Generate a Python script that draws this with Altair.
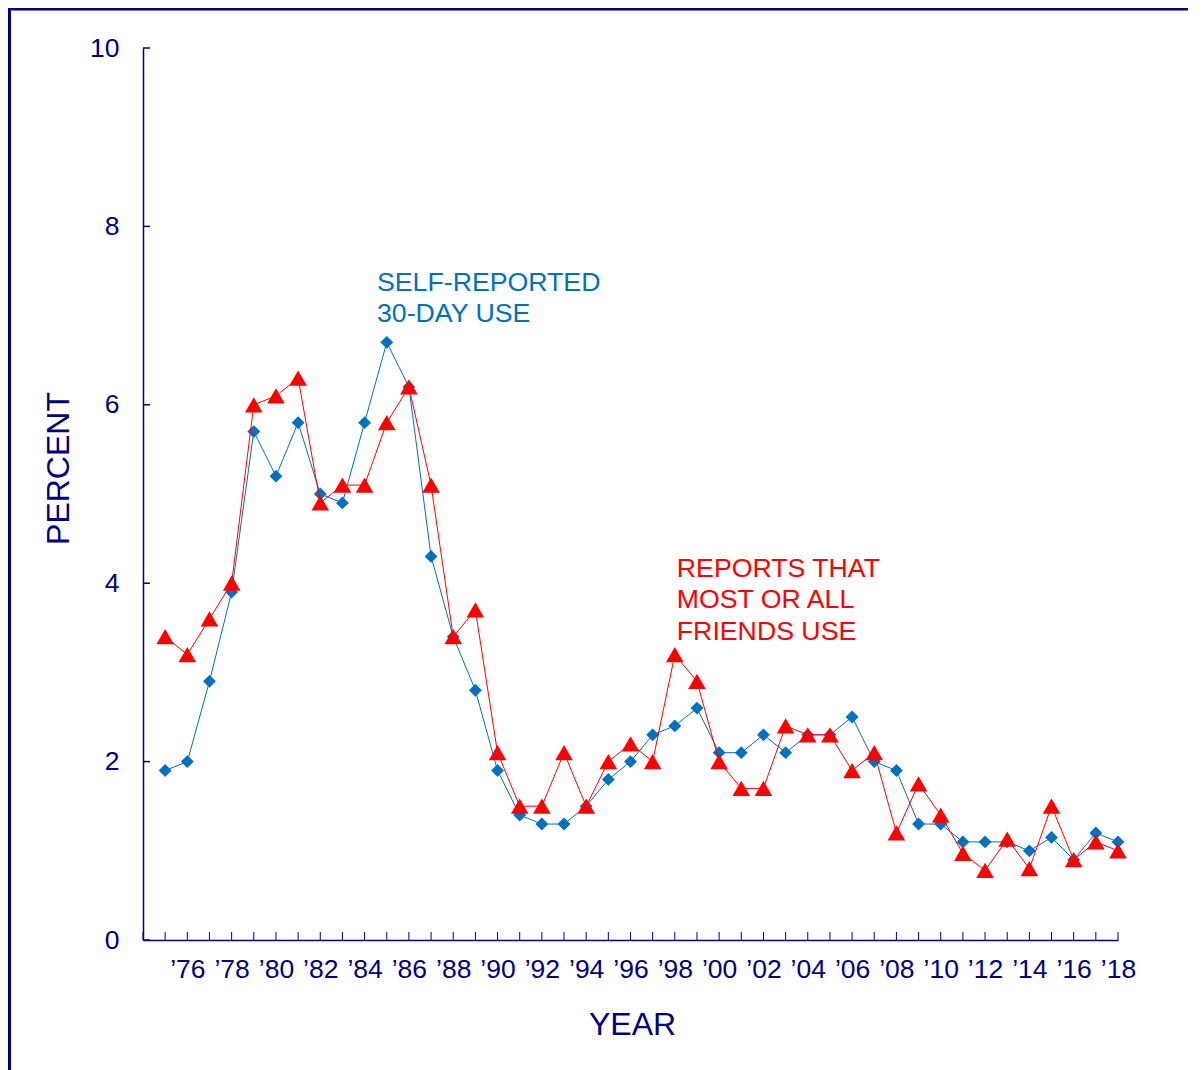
import altair as alt
import pandas as pd

years = list(range(1975, 2019))
self_reported = [1.9, 2.0, 2.9, 3.9, 5.7, 5.2, 5.8, 5.0, 4.9, 5.8,
                 6.7, 6.2, 4.3, 3.4, 2.8, 1.9, 1.4, 1.3, 1.3, 1.5,
                 1.8, 2.0, 2.3, 2.4, 2.6, 2.1, 2.1, 2.3, 2.1, 2.3,
                 2.3, 2.5, 2.0, 1.9, 1.3, 1.3, 1.1, 1.1, 1.1, 1.0,
                 1.15, 0.9, 1.2, 1.1]
friends_use = [3.4, 3.2, 3.6, 4.0, 6.0, 6.1, 6.3, 4.9, 5.1, 5.1,
               5.8, 6.2, 5.1, 3.4, 3.7, 2.1, 1.5, 1.5, 2.1, 1.5,
               2.0, 2.2, 2.0, 3.2, 2.9, 2.0, 1.7, 1.7, 2.4, 2.3,
               2.3, 1.9, 2.1, 1.2, 1.75, 1.4, 0.97, 0.78, 1.13, 0.8,
               1.5, 0.9, 1.1, 1.0]
y_ticks = [0, 2, 4, 6, 8, 10]
x_ticks = list(range(1974, 2019))

ann_text = ["SELF-REPORTED\n30-DAY USE", "REPORTS THAT\nMOST OR ALL\nFRIENDS USE"]
ann_x = [1984.56, 1998.09]
ann_y = [7.28, 4.07]
ann_series = ["self", "friends"]

NAVY = "#000080"
BLUE = "#0070C0"
RED = "#FF0000"
FONT = "Liberation Sans"
W, H = 975, 892

df = pd.DataFrame({"year": years, "self": self_reported, "friends": friends_use})
ann = pd.DataFrame({"text": ann_text, "x": ann_x, "y": ann_y, "s": ann_series})

xscale = alt.Scale(domain=[1974, 2018], nice=False, zero=False)
yscale = alt.Scale(domain=[0, 10], nice=False, zero=True)

x_axis = alt.Axis(
    values=x_ticks,
    labelExpr="(datum.value % 2 == 0 && datum.value > 1974) ? '\u2019' + substring(toString(datum.value), 2, 4) : ''",
    ticks=False, tickSize=0, grid=False,
    domainColor=NAVY, domainWidth=1.5,
    labelColor=NAVY, labelFont=FONT, labelFontSize=26.5, labelPadding=16,
    labelOverlap=False, labelFlush=False,
    title="YEAR", titleFont=FONT, titleFontSize=32, titleFontWeight="normal",
    titleColor=NAVY, titleX=489, titleY=84, titleAlign="center",
    titleBaseline="middle",
)
y_axis = alt.Axis(
    values=y_ticks, ticks=False, tickSize=0, grid=False,
    domainColor=NAVY, domainWidth=1.5,
    labelColor=NAVY, labelFont=FONT, labelFontSize=26.5, labelPadding=24,
    title="PERCENT", titleFont=FONT, titleFontSize=32, titleFontWeight="normal",
    titleColor=NAVY, titleAngle=270, titleX=-85, titleY=420,
    titleAlign="center", titleBaseline="middle",
)


def X(field):
    return alt.X(field, scale=xscale, axis=x_axis)


def Y(field):
    return alt.Y(field, scale=yscale, axis=y_axis)


base = alt.Chart(df)

self_line = base.mark_line(color=BLUE, strokeWidth=1).encode(x=X("year:Q"), y=Y("self:Q"))
self_pts = base.mark_point(shape="diamond", filled=True, size=165, color=BLUE, opacity=1).encode(
    x=X("year:Q"), y=Y("self:Q"))
fr_line = base.mark_line(color=RED, strokeWidth=1).encode(x=X("year:Q"), y=Y("friends:Q"))
fr_pts = base.mark_point(shape="triangle-up", filled=True, size=310, color=RED, opacity=1).encode(
    x=X("year:Q"), y=Y("friends:Q"))

ytick_rules = alt.Chart(pd.DataFrame({"v": y_ticks})).mark_rule(color=NAVY, strokeWidth=1.5).encode(
    y=Y("v:Q"), x=alt.value(0), x2=alt.value(7),
)
xtick_rules = alt.Chart(pd.DataFrame({"t": x_ticks})).mark_rule(color=NAVY, strokeWidth=1).encode(
    x=X("t:Q"), y=alt.value(H - 8), y2=alt.value(H),
)

texts = alt.Chart(ann).mark_text(
    align="left", baseline="alphabetic", font=FONT, fontSize=26.7, lineHeight=31.5, lineBreak="\n",
).encode(
    x=X("x:Q"), y=Y("y:Q"),
    text="text:N",
    color=alt.Color("s:N", scale=alt.Scale(domain=["self", "friends"], range=[BLUE, RED]), legend=None),
)

frame = alt.Chart(pd.DataFrame({"a": [0]})).mark_rect(
    fillOpacity=0, stroke=NAVY, strokeWidth=3,
).encode(
    x=alt.value(-133.5), x2=alt.value(3000), y=alt.value(-39), y2=alt.value(3000),
)

chart = alt.layer(
    self_line, self_pts, fr_line, fr_pts, xtick_rules, ytick_rules, texts, frame
).properties(
    width=W, height=H,
    autosize=alt.AutoSizeParams(type="none"),
    padding={"left": 135, "top": 40, "right": 70, "bottom": 130},
    background="white",
).configure_view(strokeWidth=0, stroke="transparent")

chart.save("out.html", embed_options={"renderer": "svg", "actions": False})
